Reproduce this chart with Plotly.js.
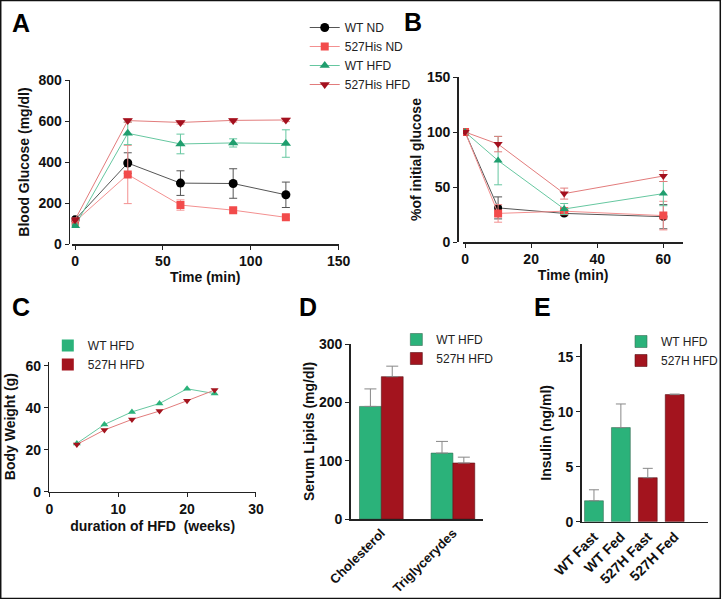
<!DOCTYPE html>
<html>
<head>
<meta charset="utf-8">
<script src="https://cdn.plot.ly/plotly-3.0.1.min.js"></script>
<style>html,body{margin:0;padding:0;background:#fff;}#chart{width:724px;height:599px;}</style>
</head>
<body>
<div id="chart"></div>
<script>
// ---------- DATA ----------
// Panel A: glucose tolerance (mg/dl)
const timesA = [0, 30, 60, 90, 120];
const wtND_A = [118, 395, 297, 295, 240];
const wtND_Aerr = [8, 50, 60, 72, 62];
const hisND_A = [109, 339, 190, 165, 130];
const hisND_Aerr = [10, 142, 25, 10, 8];
const wtHFD_A = [89, 540, 488, 493, 490];
const wtHFD_Aerr = [8, 55, 48, 20, 67];
const hisHFD_A = [118, 602, 593, 603, 605];
const hisHFD_Aerr = [8, 8, 8, 8, 8];

// Panel B: insulin tolerance (% of initial glucose)
const timesB = [0, 10, 30, 60];
const wtND_B = [100, 31, 26, 23];
const wtND_Berr = [1, 10, 2, 11];
const hisND_B = [100, 26, 28, 24];
const hisND_Berr = [1, 8, 3, 13];
const wtHFD_B = [100, 74, 30, 44];
const wtHFD_Berr = [1, 22, 5, 11];
const hisHFD_B = [100, 89, 44, 60];
const hisHFD_Berr = [1, 7, 5, 5];

// Panel C: body weight (g) vs weeks of HFD
const weeksC = [4, 8, 12, 16, 20, 24];
const wtHFD_C = [23, 32, 38, 42, 49, 46.7];
const hisHFD_C = [22.5, 29.4, 34.4, 38.4, 43.3, 48.4];

// Panel D: serum lipids (mg/dl)
const lipidCats = ['Cholesterol', 'Triglycerydes'];
const wtHFD_D = [193, 113];
const wtHFD_Derr = [30, 20];
const hisHFD_D = [244, 96];
const hisHFD_Derr = [18, 10];
const zeroErrD = [0, 0];

// Panel E: insulin (ng/ml)
const insulinCats = ['WT Fast', 'WT Fed', '527H Fast', '527H Fed'];
const wtCatsE = ['WT Fast', 'WT Fed'];
const hisCatsE = ['527H Fast', '527H Fed'];
const wtHFD_E = [1.9, 8.55];
const wtHFD_Eerr = [1.0, 2.15];
const hisHFD_E = [4.0, 11.55];
const hisHFD_Eerr = [0.85, 0.05];
const zeroErrE = [0, 0];

// ---------- STYLE ----------
const W = 724, H = 599;
const fx = p => p / W;
const fy = p => 1 - p / H;
const FONT = 'Liberation Sans, Arial, Helvetica, sans-serif';
const GREEN = '#2bb27a', DARKRED = '#a3141e';
const C_ND = {m: '#000000', l: '#555555'};
const C_HND = {m: '#f24b4b', l: '#f39090'};
const C_WH = {m: '#1f9e6e', l: '#66c7a0'};
const C_HH = {m: '#a3101e', l: '#e27c7c'};

function errBar(arr, color, w) {
  return {type: 'data', array: arr, visible: true, color: color, thickness: 1, width: w};
}
function lineTrace(x, y, err, col, sym, size, name, xa, ya, showleg, ew) {
  return {
    type: 'scatter', mode: 'lines+markers', x: x, y: y, name: name,
    xaxis: xa, yaxis: ya, showlegend: showleg, legend: 'legend',
    line: {color: col.l, width: 1},
    marker: {color: col.m, symbol: sym, size: size},
    error_y: err ? errBar(err, col.l, ew) : undefined
  };
}

const traces = [
  // A
  lineTrace(timesA, wtND_A, wtND_Aerr, C_ND, 'circle', 9, 'WT ND', 'x', 'y', true, 4),
  lineTrace(timesA, hisND_A, hisND_Aerr, C_HND, 'square', 8, '527His ND', 'x', 'y', true, 4),
  lineTrace(timesA, wtHFD_A, wtHFD_Aerr, C_WH, 'triangle-up', 9, 'WT HFD', 'x', 'y', true, 4),
  lineTrace(timesA, hisHFD_A, hisHFD_Aerr, C_HH, 'triangle-down', 9, '527His HFD', 'x', 'y', true, 4),
  // B
  lineTrace(timesB, wtND_B, wtND_Berr, C_ND, 'circle', 8, 'WT ND', 'x2', 'y2', false, 4),
  lineTrace(timesB, hisND_B, hisND_Berr, C_HND, 'square', 8, '527His ND', 'x2', 'y2', false, 4),
  lineTrace(timesB, wtHFD_B, wtHFD_Berr, C_WH, 'triangle-up', 8, 'WT HFD', 'x2', 'y2', false, 4),
  lineTrace(timesB, hisHFD_B, hisHFD_Berr, C_HH, 'triangle-down', 8, '527His HFD', 'x2', 'y2', false, 4),
  // C
  {type: 'scatter', mode: 'lines+markers', x: weeksC, y: wtHFD_C, xaxis: 'x3', yaxis: 'y3', showlegend: false,
   line: {color: '#66c7a0', width: 1}, marker: {color: GREEN, symbol: 'triangle-up', size: 7}},
  {type: 'scatter', mode: 'lines+markers', x: weeksC, y: hisHFD_C, xaxis: 'x3', yaxis: 'y3', showlegend: false,
   line: {color: '#e27c7c', width: 1}, marker: {color: DARKRED, symbol: 'triangle-down', size: 7}},
  {type: 'bar', x: [null], y: [null], xaxis: 'x3', yaxis: 'y3', name: 'WT HFD', legend: 'legend2', marker: {color: GREEN}},
  {type: 'bar', x: [null], y: [null], xaxis: 'x3', yaxis: 'y3', name: '527H HFD', legend: 'legend2', marker: {color: DARKRED}},
  // D
  {type: 'bar', x: lipidCats, y: wtHFD_D, xaxis: 'x4', yaxis: 'y4', name: 'WT HFD', legend: 'legend3',
   width: 0.305, offset: -0.305, marker: {color: GREEN, line: {color: '#3a6b55', width: 0.6}},
   error_y: {type: 'data', symmetric: false, array: wtHFD_Derr, arrayminus: zeroErrD, color: '#888', thickness: 1, width: 6}},
  {type: 'bar', x: lipidCats, y: hisHFD_D, xaxis: 'x4', yaxis: 'y4', name: '527H HFD', legend: 'legend3',
   width: 0.305, offset: 0, marker: {color: DARKRED, line: {color: '#5a1015', width: 0.6}},
   error_y: {type: 'data', symmetric: false, array: hisHFD_Derr, arrayminus: zeroErrD, color: '#888', thickness: 1, width: 6}},
  // E
  {type: 'bar', x: wtCatsE, y: wtHFD_E, xaxis: 'x5', yaxis: 'y5', name: 'WT HFD', legend: 'legend4',
   width: 0.7, offset: -0.35, marker: {color: GREEN, line: {color: '#3a6b55', width: 0.6}},
   error_y: {type: 'data', symmetric: false, array: wtHFD_Eerr, arrayminus: zeroErrE, color: '#888', thickness: 1, width: 5}},
  {type: 'bar', x: hisCatsE, y: hisHFD_E, xaxis: 'x5', yaxis: 'y5', name: '527H HFD', legend: 'legend4',
   width: 0.7, offset: -0.35, marker: {color: DARKRED, line: {color: '#5a1015', width: 0.6}},
   error_y: {type: 'data', symmetric: false, array: hisHFD_Eerr, arrayminus: zeroErrE, color: '#888', thickness: 1, width: 5}}
];

const tickF = {family: FONT, size: 14, color: '#111', weight: 'bold'};
const titleF = {family: FONT, size: 14, color: '#111', weight: 'bold'};
function ax(extra) {
  return Object.assign({
    showline: true, linecolor: '#222', linewidth: 1.5, showgrid: false, zeroline: false,
    ticks: 'outside', ticklen: 4, tickwidth: 1, tickcolor: '#222', tickfont: tickF,
    fixedrange: true
  }, extra);
}
function legendCfg(xp, yp) {
  return {x: fx(xp), y: fy(yp), xanchor: 'left', yanchor: 'top', bgcolor: 'rgba(0,0,0,0)',
          borderwidth: 0, font: {family: FONT, size: 12, color: '#222'}, tracegroupgap: 0};
}

const layout = {
  width: W, height: H, margin: {l: 0, r: 0, t: 0, b: 0},
  paper_bgcolor: '#fff', plot_bgcolor: '#fff', showlegend: true,
  font: {family: FONT},
  xaxis: ax({domain: [fx(72), fx(340)], range: [-1.9, 150], anchor: 'y', tickvals: [0, 50, 100, 150],
    title: {text: 'Time (min)', font: titleF, standoff: 4}}),
  yaxis: ax({domain: [fy(244), fy(80)], range: [0, 800], anchor: 'free', position: fx(69), tickvals: [0, 200, 400, 600, 800],
    title: {text: 'Blood Glucose (mg/dl)', font: titleF, standoff: 4}}),
  xaxis2: ax({domain: [fx(465), fx(686)], range: [-0.6, 66], anchor: 'y2', tickvals: [0, 20, 40, 60],
    title: {text: 'Time (min)', font: titleF, standoff: 4}}),
  yaxis2: ax({domain: [fy(242), fy(77)], range: [0, 150], anchor: 'free', position: fx(459), tickvals: [0, 50, 100, 150],
    title: {text: '%of initial glucose', font: titleF, standoff: 0}}),
  xaxis3: ax({domain: [fx(49.5), fx(257)], range: [0, 30], anchor: 'y3', tickvals: [0, 10, 20, 30],
    title: {text: 'duration of HFD  (weeks)', font: titleF, standoff: 5}}),
  yaxis3: ax({domain: [fy(491.7), fy(361.7)], range: [0, 61.9], anchor: 'x3', tickvals: [0, 20, 40, 60],
    title: {text: 'Body Weight (g)', font: titleF, standoff: 6}}),
  xaxis4: ax({domain: [fx(352), fx(485)], range: [-0.43, 1.42], anchor: 'y4', type: 'category',
    categoryorder: 'array', categoryarray: lipidCats, ticks: '', tickangle: -45,
    tickfont: {family: FONT, size: 13, color: '#111', weight: 'bold'}}),
  yaxis4: ax({domain: [fy(519), fy(344)], range: [0, 300], anchor: 'x4', tickvals: [0, 100, 200, 300],
    title: {text: 'Serum Lipids (mg/dl)', font: titleF, standoff: 1}}),
  xaxis5: ax({domain: [fx(584), fx(711)], range: [-0.46, 4.24], anchor: 'y5', type: 'category',
    categoryorder: 'array', categoryarray: insulinCats, ticks: '', tickangle: -45}),
  yaxis5: ax({domain: [fy(521.7), fy(344)], range: [0, 16.15], anchor: 'x5', tickvals: [0, 5, 10, 15],
    title: {text: 'Insulin (ng/ml)', font: titleF, standoff: 3}}),
  legend: legendCfg(306, 13),
  legend2: legendCfg(48, 331),
  legend3: legendCfg(398, 325),
  legend4: legendCfg(624, 327),
  annotations: [
    ['A', 21, 23], ['B', 415, 22], ['C', 21, 307], ['D', 309, 307], ['E', 545, 307]
  ].map(a => ({text: a[0], x: fx(a[1]), y: fy(a[2]), xref: 'paper', yref: 'paper',
    xanchor: 'center', yanchor: 'middle', showarrow: false,
    font: {family: FONT, size: 25, color: '#000', weight: 'bold'}})),
  shapes: [{type: 'rect', xref: 'paper', yref: 'paper', x0: 0.001, x1: 0.999, y0: 0.001, y1: 0.999,
    line: {color: '#111', width: 1.5}}]
};

Plotly.newPlot('chart', traces, layout, {displayModeBar: false, staticPlot: true});
</script>
</body>
</html>
